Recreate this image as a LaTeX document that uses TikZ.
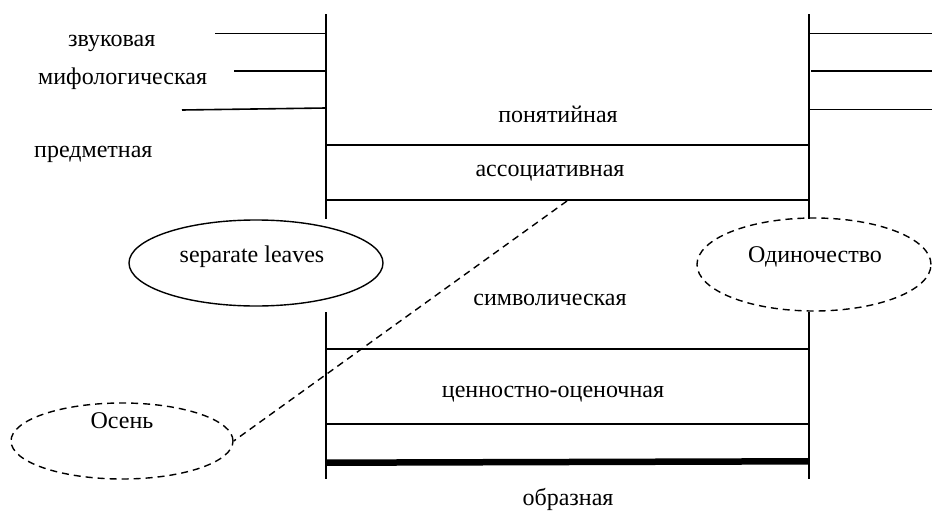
\documentclass[tikz,border=0pt]{standalone}
\usepackage{fontspec}
\setmainfont{Liberation Serif}
\usetikzlibrary{shapes.geometric}
\begin{document}
\begin{tikzpicture}[x=1pt,y=-1pt,
  rule/.style={line width=1.6pt},
  boldrule/.style={line width=6.5pt},
  dashline/.style={line width=1.4pt,dash pattern=on 7pt off 5pt},
  lbl/.style={font=\fontsize{24}{28}\selectfont,inner sep=0pt,anchor=base},
  lblw/.style={lbl,anchor=base west},
  oval/.style={ellipse,inner sep=0pt,line width=1.4pt}]
\useasboundingbox (0,0) rectangle (932,514);

% main vertical rails
\coordinate (L1t) at (326,14);  \coordinate (L1b) at (326,219);
\coordinate (L2t) at (326,312); \coordinate (L2b) at (326,479);
\coordinate (R1t) at (809,14);  \coordinate (R1b) at (809,219);
\coordinate (R2t) at (809,312); \coordinate (R2b) at (809,479);
\draw[rule] (L1t) -- (L1b);
\draw[rule] (L2t) -- (L2b);
\draw[rule] (R1t) -- (R1b);
\draw[rule] (R2t) -- (R2b);

% short ticks on the left
\coordinate (la1) at (215,33.5); \coordinate (lb1) at (326,33.5);
\coordinate (la2) at (234,71);   \coordinate (lb2) at (326,71);
\coordinate (la3) at (182,110);  \coordinate (lb3) at (326,108);
\draw[rule] (la1) -- (lb1);
\draw[rule] (la2) -- (lb2);
\draw[rule] (la3) -- (lb3);

% short ticks on the right
\coordinate (ra1) at (809,33.5); \coordinate (rb1) at (932,33.5);
\coordinate (ra2) at (811,71);   \coordinate (rb2) at (932,71);
\coordinate (ra3) at (809,109.5);\coordinate (rb3) at (932,109.5);
\draw[rule] (ra1) -- (rb1);
\draw[rule] (ra2) -- (rb2);
\draw[rule] (ra3) -- (rb3);

% cross bars between the rails
\coordinate (h1a) at (326,145); \coordinate (h1b) at (809,145);
\coordinate (h2a) at (326,200); \coordinate (h2b) at (809,200);
\coordinate (h3a) at (326,349); \coordinate (h3b) at (809,349);
\coordinate (h4a) at (326,424); \coordinate (h4b) at (809,424);
\coordinate (h5a) at (326,462.7); \coordinate (h5b) at (809,461.3);
\draw[rule] (h1a) -- (h1b);
\draw[rule] (h2a) -- (h2b);
\draw[rule] (h3a) -- (h3b);
\draw[rule] (h4a) -- (h4b);
\draw[boldrule] (h5a) -- (h5b);

% labels
\node[lblw] (zv)  at (68,46)  {звуковая};
\node[lblw] (mif) at (38,84)  {мифологическая};
\node[lblw] (pred) at (34,157) {предметная};
\node[lbl] (pon) at (558,122) {понятийная};
\node[lbl] (ass) at (550,176) {ассоциативная};
\node[lbl] (sim) at (550,305) {символическая};
\node[lbl] (cen) at (553,397) {ценностно-оценочная};
\node[lbl] (obr) at (568,505) {образная};

% ovals
\node[oval,draw,minimum width=254pt,minimum height=86pt] (leaves) at (256,263) {};
\node[lbl] (leavesT) at (252,262) {separate leaves};
\node[oval,draw,dashline,minimum width=234pt,minimum height=93pt] (odin) at (814,264.5) {};
\node[lbl] (odinT) at (815,262) {Одиночество};
\node[oval,draw,dashline,minimum width=222pt,minimum height=76pt] (osen) at (122,441) {};
\node[lbl] (osenT) at (122,428) {Осень};

% dashed link
\coordinate (lk) at (567,201);
\draw[dashline] (lk) -- (osen.east);
\end{tikzpicture}
\end{document}
